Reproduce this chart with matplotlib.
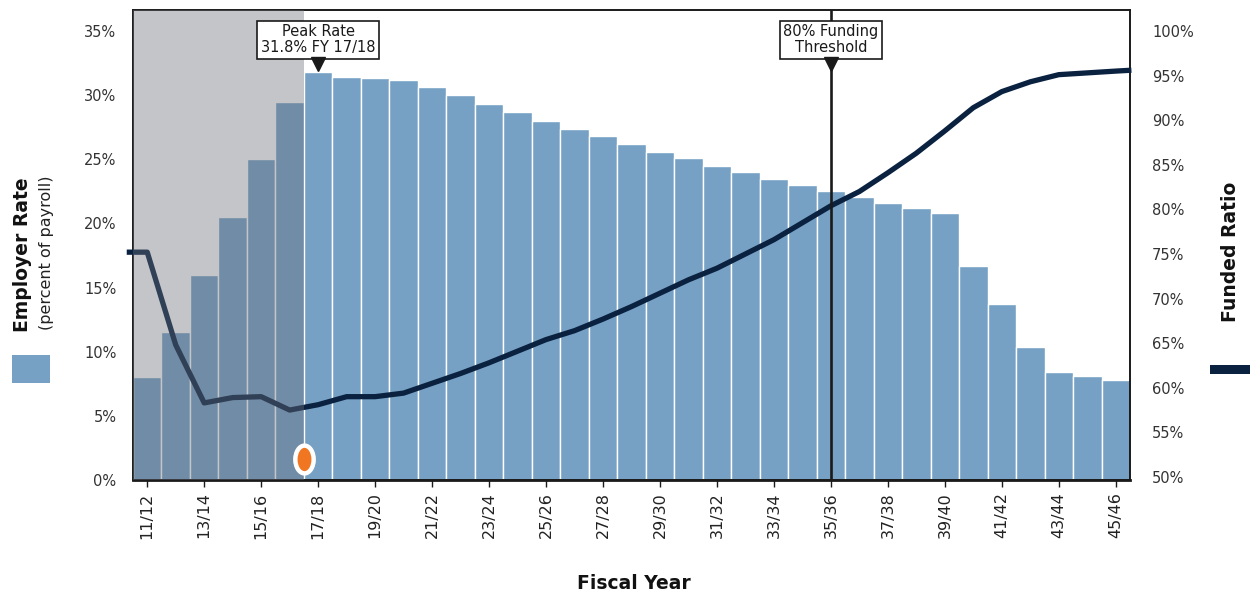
#!/usr/bin/env python3
# Employer rate (bars) vs funded ratio (line), fiscal years 11/12 - 45/46

import matplotlib.pyplot as plt
import numpy as np
from matplotlib.path import Path
from matplotlib.patches import Rectangle

plt.rcParams['font.family'] = ['DejaVu Sans']

# ---- data ----
fiscal_years = ['11/12', '12/13', '13/14', '14/15', '15/16', '16/17', '17/18',
                '18/19', '19/20', '20/21', '21/22', '22/23', '23/24', '24/25',
                '25/26', '26/27', '27/28', '28/29', '29/30', '30/31', '31/32',
                '32/33', '33/34', '34/35', '35/36', '36/37', '37/38', '38/39',
                '39/40', '40/41', '41/42', '42/43', '43/44', '44/45', '45/46']
employer_rate = [8.0, 11.5, 16.0, 20.5, 25.0, 29.5, 31.8, 31.4, 31.35, 31.2,
                 30.6, 30.0, 29.3, 28.7, 28.0, 27.4, 26.8, 26.2, 25.6, 25.1,
                 24.5, 24.0, 23.5, 23.0, 22.5, 22.1, 21.6, 21.2, 20.8, 16.7,
                 13.7, 10.4, 8.4, 8.1, 7.8]
funded_ratio = [75.2, 64.8, 58.3, 58.9, 59.0, 57.5, 58.1, 59.0, 59.0, 59.4,
                60.5, 61.6, 62.8, 64.1, 65.4, 66.4, 67.7, 69.1, 70.6, 72.1,
                73.4, 75.0, 76.6, 78.5, 80.4, 82.0, 84.1, 86.3, 88.8, 91.4,
                93.2, 94.3, 95.1, 95.3, 95.5]
actual_years = 6          # 11/12 .. 16/17 are shaded (actuals)
peak_year = '17/18'
threshold_year = '35/36'

BAR = '#76a1c5'
NAVY = '#0a2240'
ORANGE = '#f07622'

x = np.arange(len(fiscal_years))

fig = plt.figure(figsize=(12.5, 5.95), dpi=100)
ax = fig.add_axes([0.1064, 0.1933, 0.7976, 0.7899])
ax2 = ax.twinx()
ax.set_zorder(1)
ax2.set_zorder(2)
ax.patch.set_visible(False)

ax.bar(x, employer_rate, width=1.0, color=BAR, edgecolor='white', linewidth=1.0)
ax.set_xlim(-0.5, len(x) - 0.5)
ax.set_ylim(0, 36.64)
ax.set_yticks(np.arange(0, 36, 5))
ax.set_yticklabels([f'{v}%' for v in range(0, 36, 5)])

# funded ratio line, nudged slightly past both edges of the plot
lx = np.concatenate([[-0.72], x, [len(x) - 0.45]])
ly = np.concatenate([[funded_ratio[0]], funded_ratio, [funded_ratio[-1] + 0.1]])
ax2.plot(lx, ly, color=NAVY, linewidth=3.8, solid_capstyle='butt',
         clip_on=False, zorder=3)
ax2.set_ylim(49.66, 102.35)
ax2.set_yticks(np.arange(50, 101, 5))
ax2.set_yticklabels([f'{v}%' for v in range(50, 101, 5)])

# shaded actuals region drawn over bars and line
ax2.axvspan(-0.5, actual_years - 0.5, color='#6b6e78', alpha=0.4,
            linewidth=0, zorder=4)

# 80% threshold line
ti = fiscal_years.index(threshold_year)
ax2.axvline(ti, color='#1a1a1a', linewidth=1.9, zorder=5)

# orange "today" marker
pill = Path.unit_circle()
pill = Path(pill.vertices * [0.66, 1.0], pill.codes)
ax2.plot([actual_years - 0.5], [52.0], marker=pill, markersize=20,
         color=ORANGE, markeredgecolor='white', markeredgewidth=3.2,
         zorder=6, clip_on=False)

# call-out boxes
box = dict(boxstyle='square,pad=0.25', facecolor='white', edgecolor='#1a1a1a',
           linewidth=1.2)
pi = fiscal_years.index(peak_year)
ax2.text(pi, 99.0, f'Peak Rate\n{employer_rate[pi]}% FY {peak_year}',
         ha='center', va='center', fontsize=10.5, linespacing=1.1,
         bbox=box, zorder=7, color='#1a1a1a')
ax2.plot([pi], [96.3], marker='v', markersize=10, color='#1a1a1a', zorder=7)
ax2.text(ti, 99.0, '80% Funding\nThreshold', ha='center', va='center',
         fontsize=10.5, linespacing=1.1, bbox=box, zorder=7, color='#1a1a1a')
ax2.plot([ti], [96.3], marker='v', markersize=10, color='#1a1a1a', zorder=7)

# axes styling
for a in (ax, ax2):
    for s in a.spines.values():
        s.set_color('#1a1a1a')
        s.set_linewidth(1.2)
ax2.spines['bottom'].set_linewidth(2)
ax.set_xticks(x[::2])
ax.set_xticklabels(fiscal_years[::2], rotation=90, fontsize=11.5,
                   color='#222222')
ax.tick_params(axis='x', length=5, width=1, color='#1a1a1a', pad=4)
ax.tick_params(axis='y', length=0, pad=12, labelsize=10.5, labelcolor='#333333')
ax2.tick_params(axis='y', length=0, pad=16, labelsize=10.5, labelcolor='#333333')

# axis titles and legend swatches
fig.text(0.018, 0.572, 'Employer Rate', rotation=90, ha='center', va='center',
         fontsize=13.5, fontweight='bold', color='#111111')
fig.text(0.037, 0.575, '(percent of payroll)', rotation=90, ha='center',
         va='center', fontsize=11.5, color='#222222')
fig.patches.append(Rectangle((12 / 1250, 1 - 383 / 595), 38 / 1250, 28 / 595,
                             transform=fig.transFigure, facecolor=BAR,
                             edgecolor='none'))
fig.text(0.984, 0.577, 'Funded Ratio', rotation=90, ha='center', va='center',
         fontsize=13.5, fontweight='bold', color='#111111')
fig.patches.append(Rectangle((1210 / 1250, 1 - 374 / 595), 40 / 1250, 9 / 595,
                             transform=fig.transFigure, facecolor=NAVY,
                             edgecolor='none'))
fig.text(0.507, 0.02, 'Fiscal Year', ha='center', va='center', fontsize=13.5,
         fontweight='bold', color='#111111')

fig.savefig('out.png', dpi=100)
plt.close(fig)
